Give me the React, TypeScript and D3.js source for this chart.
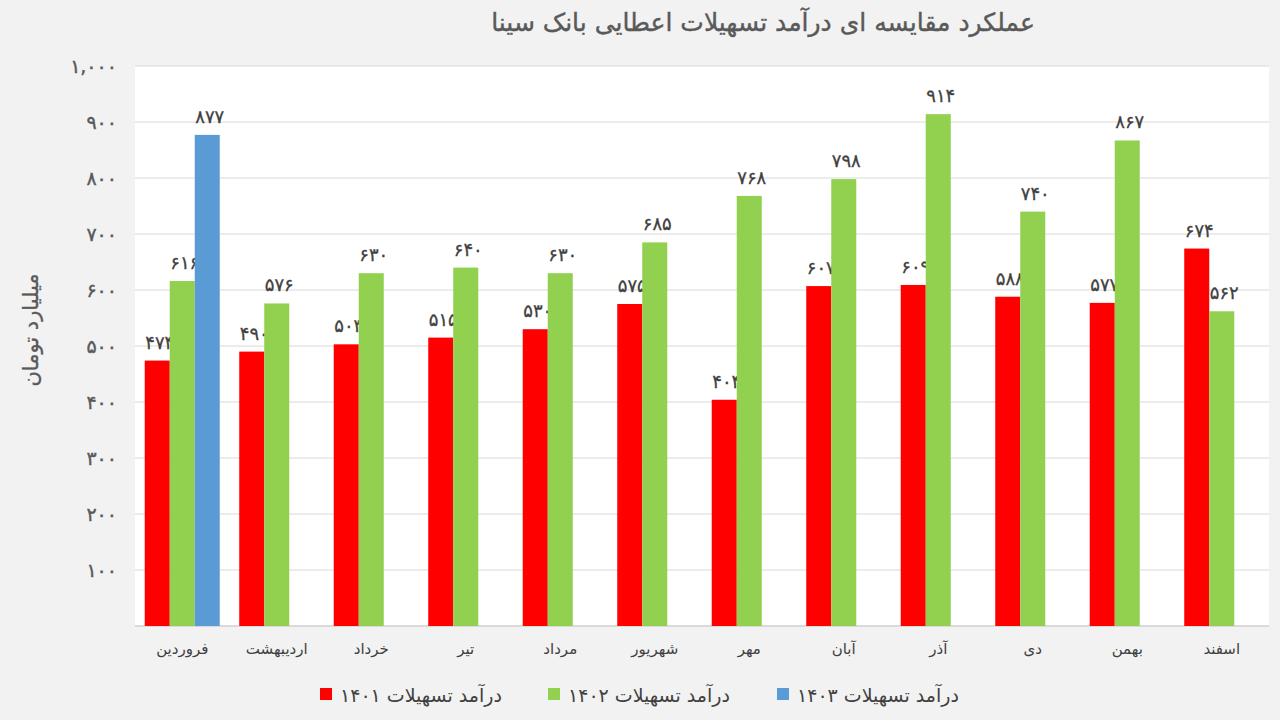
import React, { useEffect, useRef } from "react";
import * as d3 from "d3";

const months = [
  "فروردین",
  "اردیبهشت",
  "خرداد",
  "تیر",
  "مرداد",
  "شهریور",
  "مهر",
  "آبان",
  "آذر",
  "دی",
  "بهمن",
  "اسفند",
];

const seriesNames = [
  "درآمد تسهیلات ۱۴۰۱",
  "درآمد تسهیلات ۱۴۰۲",
  "درآمد تسهیلات ۱۴۰۳",
];

const income1401 = [474, 490, 503, 515, 530, 575, 404, 607, 609, 588, 577, 674];
const income1402 = [616, 576, 630, 640, 630, 685, 768, 798, 914, 740, 867, 562];
const income1403 = [877];

const yTicks = [100, 200, 300, 400, 500, 600, 700, 800, 900, 1000];

const colors = ["#FF0000", "#92D050", "#5B9BD5"];

const FONT = "'DejaVu Sans', 'Noto Sans', sans-serif";

// persian digits
const fa = (s: string) => s.replace(/\d/g, (d) => "۰۱۲۳۴۵۶۷۸۹"[+d]);

const App = () => {
  const svgRef = useRef(null);
  const width = 1280;
  const height = 720;
  const plot = { left: 135, right: 1269, top: 66, bottom: 626 };

  useEffect(() => {
    const svg = d3.select(svgRef.current);
    svg.selectAll("*").remove();

    const allSeries = [income1401, income1402, income1403];

    const x = d3
      .scaleBand()
      .domain(months)
      .range([plot.left, plot.right])
      .padding(0);

    const bw = x.bandwidth();
    const xInner = d3
      .scaleBand()
      .domain(seriesNames)
      .range([bw * 0.103, bw * 0.897])
      .padding(0);

    const y = d3.scaleLinear().domain([0, 1000]).range([plot.bottom, plot.top]);

    svg
      .append("rect")
      .attr("width", width)
      .attr("height", height)
      .attr("fill", "#F2F2F2");

    svg
      .append("rect")
      .attr("x", plot.left)
      .attr("y", plot.top)
      .attr("width", plot.right - plot.left)
      .attr("height", plot.bottom - plot.top)
      .attr("fill", "#FFFFFF");

    // grid
    svg
      .append("g")
      .selectAll("line")
      .data(yTicks)
      .enter()
      .append("line")
      .attr("x1", plot.left)
      .attr("x2", plot.right)
      .attr("y1", (d) => y(d))
      .attr("y2", (d) => y(d))
      .attr("stroke", "#D9D9D9")
      .attr("stroke-width", 1);

    svg
      .append("line")
      .attr("x1", plot.left)
      .attr("x2", plot.right)
      .attr("y1", y(0))
      .attr("y2", y(0))
      .attr("stroke", "#D0D0D0")
      .attr("stroke-width", 1.5);

    // y tick labels
    svg
      .append("g")
      .selectAll("text")
      .data(yTicks)
      .enter()
      .append("text")
      .attr("x", 117)
      .attr("y", (d) => y(d))
      .attr("dy", "0.35em")
      .attr("text-anchor", "end")
      .attr("font-family", FONT)
      .attr("font-size", 19)
      .attr("letter-spacing", 7)
      .attr("fill", "#595959")
      .attr("stroke", "#595959")
      .attr("stroke-width", 0.4)
      .text((d) => fa(d3.format(",")(d)));

    // bars + labels
    allSeries.forEach((vals, si) => {
      const g = svg.append("g");
      const data = vals.map((v, i) => ({ m: months[i], v }));
      g.selectAll("rect")
        .data(data)
        .enter()
        .append("rect")
        .attr("x", (d) => x(d.m)! + xInner(seriesNames[si])!)
        .attr("y", (d) => y(d.v))
        .attr("width", xInner.bandwidth())
        .attr("height", (d) => y(0) - y(d.v))
        .attr("fill", colors[si]);

      g.selectAll("text")
        .data(data)
        .enter()
        .append("text")
        .attr(
          "x",
          (d) =>
            x(d.m)! + xInner(seriesNames[si])! + xInner.bandwidth() / 2 + 2.5
        )
        .attr("y", (d) => y(d.v) - 12)
        .attr("text-anchor", "middle")
        .attr("font-family", FONT)
        .attr("font-size", 18)
        .attr("letter-spacing", 5)
        .attr("fill", "#404040")
        .attr("stroke", "#404040")
        .attr("stroke-width", 0.3)
        .text((d) => fa(String(d.v)));
    });

    // x labels
    svg
      .append("g")
      .selectAll("text")
      .data(months)
      .enter()
      .append("text")
      .attr("x", (d) => x(d)! + bw / 2)
      .attr("y", 654)
      .attr("text-anchor", "middle")
      .attr("font-family", FONT)
      .attr("font-size", 15)
      .attr("fill", "#404040")
      .text((d) => d);

    // title
    svg
      .append("text")
      .attr("x", 763)
      .attr("y", 31)
      .attr("text-anchor", "middle")
      .attr("font-family", FONT)
      .attr("font-size", 25)
      .attr("fill", "#595959")
      .attr("stroke", "#595959")
      .attr("stroke-width", 0.4)
      .text("عملکرد مقایسه ای درآمد تسهیلات اعطایی بانک سینا");

    // y axis title
    svg
      .append("text")
      .attr("transform", "translate(38,330) rotate(-90)")
      .attr("text-anchor", "middle")
      .attr("font-family", FONT)
      .attr("font-size", 21)
      .attr("fill", "#595959")
      .attr("stroke", "#595959")
      .attr("stroke-width", 0.3)
      .text("میلیارد تومان");

    // legend
    const legendX = [320, 548, 777];
    const legend = svg
      .append("g")
      .selectAll("g")
      .data(seriesNames)
      .enter()
      .append("g")
      .attr("transform", (_, i) => `translate(${legendX[i]},694)`);

    legend
      .append("rect")
      .attr("x", 0)
      .attr("y", -6)
      .attr("width", 12)
      .attr("height", 12)
      .attr("fill", (_, i) => colors[i]);

    legend
      .append("text")
      .attr("x", 20)
      .attr("y", 1)
      .attr("dy", "0.35em")
      .attr("font-family", FONT)
      .attr("font-size", 19)
      .attr("fill", "#404040")
      .text((d) => d);
  }, []);

  return (
    <svg
      ref={svgRef}
      width={width}
      height={height}
      style={{ position: "absolute", left: 0, top: 0 }}
    ></svg>
  );
};

export default App;
